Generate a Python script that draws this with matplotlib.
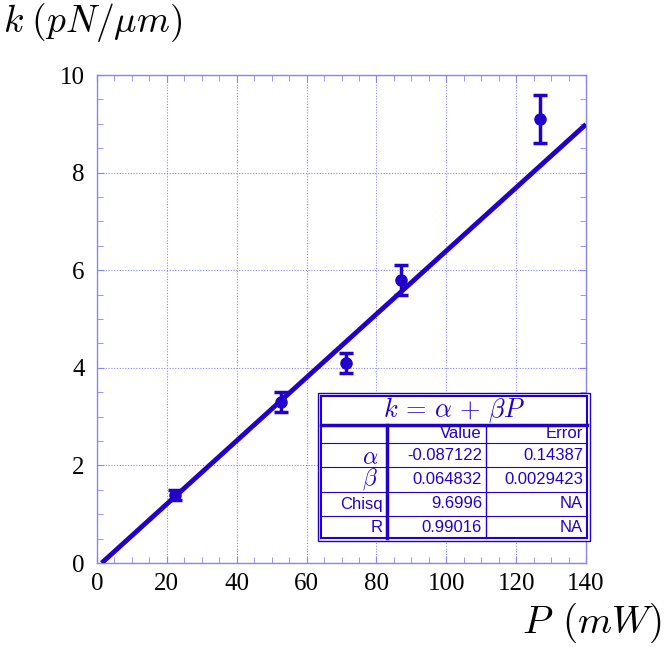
import matplotlib
matplotlib.use("Agg")
import matplotlib.pyplot as plt
import numpy as np
from matplotlib.lines import Line2D
from matplotlib.patches import Rectangle
from matplotlib.ticker import MultipleLocator

# data
power = [22.3, 52.7, 71.2, 87.0, 126.8]
stiffness = [1.40, 3.30, 4.10, 5.80, 9.10]
stiff_err = [0.10, 0.20, 0.20, 0.30, 0.50]
alpha = -0.087122
beta = 0.064832
table_rows = ["α", "β", "Chisq", "R"]
table_values = ["-0.087122", "0.064832", "9.6996", "0.99016"]
table_errors = ["0.14387", "0.0029423", "NA", "NA"]

W, H = 664, 647
blue = "#2200cc"
light = "#8a86f0"

plt.rcParams['mathtext.fontset'] = 'cm'
fig = plt.figure(figsize=(W / 100, H / 100), dpi=100)
ax = fig.add_axes([97 / W, (H - 563) / H, (586 - 97) / W, (563 - 75) / H])

ax.set_xlim(0, 140)
ax.set_ylim(0, 10)
ax.xaxis.set_major_locator(MultipleLocator(20))
ax.xaxis.set_minor_locator(MultipleLocator(5))
ax.yaxis.set_major_locator(MultipleLocator(2))
ax.yaxis.set_minor_locator(MultipleLocator(0.5))
ax.grid(True, which='major', color=light, linestyle=(0, (1, 1.5)), linewidth=0.8)
for s in ax.spines.values():
    s.set_color(light)
    s.set_linewidth(1.0)
ax.tick_params(which='both', direction='in', top=True, right=True, colors=light,
               labelcolor='black', labelsize=18)
ax.tick_params(which='major', length=5)
ax.tick_params(which='minor', length=4)
ax.tick_params(axis='x', which='major', pad=7)
ax.tick_params(axis='y', which='major', pad=9)
for lab in ax.get_xticklabels() + ax.get_yticklabels():
    lab.set_family('Liberation Serif')

# fit line
xf = np.array([-alpha / beta, 140])
ax.plot(xf, alpha + beta * xf, color=blue, linewidth=3.5, solid_capstyle='butt', zorder=3)

ax.errorbar(power, stiffness, yerr=stiff_err, fmt='o', color=blue, markersize=8,
            elinewidth=2.5, capsize=5, capthick=2.5, zorder=4)

fig.text(3 / W, 1 - 22 / H, r"$k\;(pN/\mu m)$", fontsize=27, ha='left', va='center')
fig.text(661 / W, 1 - 623 / H, r"$P\;\,(mW)$", fontsize=28, ha='right', va='center')

# table in pixel coords
def px(x, y):
    return x / W, 1 - y / H

def hline(x0, x1, y, lw=1.0):
    fig.add_artist(Line2D([x0 / W, x1 / W], [1 - y / H, 1 - y / H], color=blue, lw=lw,
                          transform=fig.transFigure, zorder=6))

def vline(x, y0, y1, lw=1.0):
    fig.add_artist(Line2D([x / W, x / W], [1 - y0 / H, 1 - y1 / H], color=blue, lw=lw,
                          transform=fig.transFigure, zorder=6))

fig.add_artist(Rectangle(px(318, 541), 272 / W, 148 / H, transform=fig.transFigure,
                         facecolor='white', edgecolor=blue, lw=1.0, zorder=5))
L, R, T, B = 321, 587, 396, 538
x1, x2 = 387, 486
rows_y = [396, 425, 443, 467, 492, 516, 538]
for r in [L, R]:
    vline(r, T, B, 1.5)
hline(L, R, T, 1.5)
hline(L, R, B, 1.5)
hline(L, R, 425, 2.5)
for y in rows_y[2:-1]:
    hline(L, R, y, 0.8)
vline(x1, 425, B, 2.5)
vline(x2, 425, B, 1.0)

fig.text(*px((L + R) / 2, 410), r"$k\, =\, \alpha\, +\, \beta P$", fontsize=19, color=blue,
         ha='center', va='center', zorder=7)
sans = dict(family='Liberation Sans', fontsize=12, color=blue, va='center', zorder=7)
fig.text(*px(x2 - 4, 434), "Value", ha='right', **sans)
fig.text(*px(R - 4, 434), "Error", ha='right', **sans)
for i in range(4):
    yc = (rows_y[i + 2] + rows_y[i + 3]) / 2
    if i < 2:
        sym = r"$\alpha$" if i == 0 else r"$\beta$"
        fig.text(*px(x1 - 9, yc + (2 if i == 0 else 0)), sym, ha='right', va='center',
                 fontsize=17, color=blue, zorder=7)
    else:
        fig.text(*px(x1 - 4, yc), table_rows[i], ha='right', **sans)
    fig.text(*px(x2 - 4, yc), table_values[i], ha='right', **sans)
    fig.text(*px(R - 4, yc), table_errors[i], ha='right', **sans)

fig.savefig("out.png", dpi=100)
